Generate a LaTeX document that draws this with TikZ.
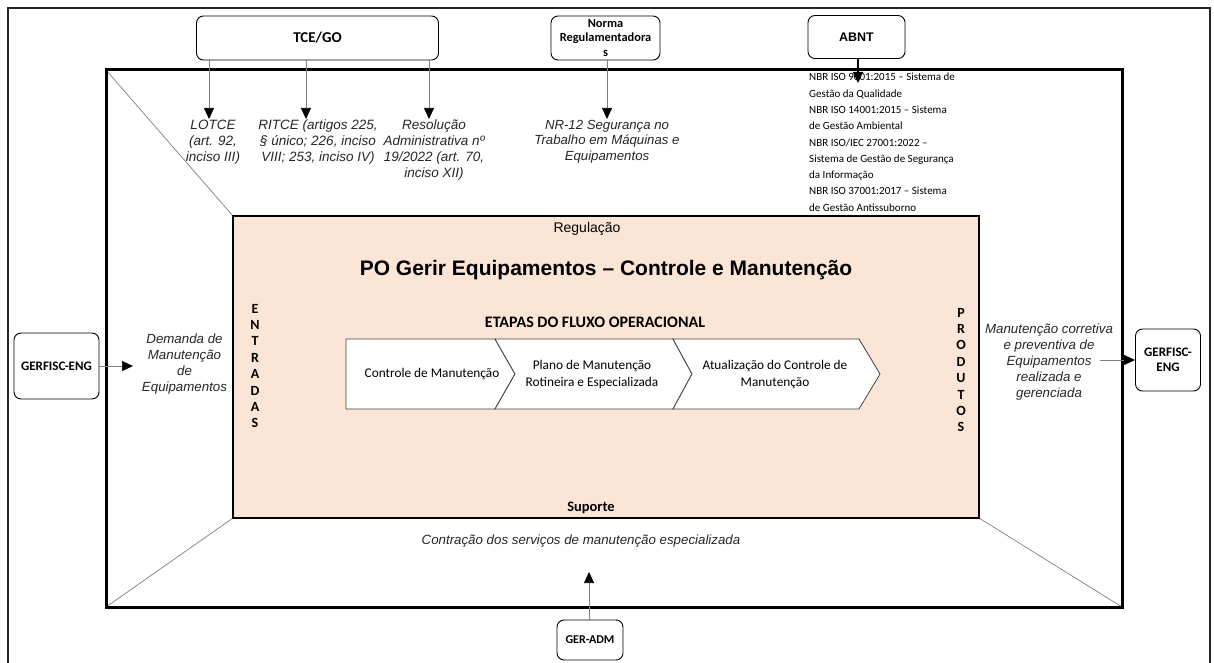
\documentclass[tikz,border=0pt]{standalone}
\usepackage{fontspec}
\setmainfont{Liberation Sans}
\newfontfamily\calibri[Ligatures=TeX]{Carlito}
\usetikzlibrary{arrows.meta}

\definecolor{salmao}{HTML}{FBE5D6}
\definecolor{cinza}{HTML}{7F7F7F}

\tikzset{
  caixa/.style={draw, rounded corners=7pt, line width=0.9pt, align=center,
    font=\calibri\bfseries\fontsize{13}{15}\selectfont},
  seta/.style={draw=cinza, line width=0.7pt,
    -{Triangle[width=10pt,length=11pt,color=black]}},
  ital/.style={align=center, inner sep=1pt, text=black!85,
    font=\itshape\fontsize{13.3}{16}\selectfont},
  etapa/.style={draw=black!75, fill=white, line width=0.8pt},
  etapatxt/.style={align=center, font=\calibri\fontsize{13.3}{17}\selectfont},
  vertical/.style={align=center, font=\calibri\bfseries\fontsize{14}{16.4}\selectfont}
}

\begin{document}
\begin{tikzpicture}[x=1pt,y=-1pt]
  \useasboundingbox (0,0) rectangle (1214,663);
  \draw[line width=1.5pt, black!85] (8,663) -- (8,8) -- (1210,8) -- (1210,663);

  \draw[cinza, line width=0.7pt] (106,70) -- (233,216);
  \draw[cinza, line width=0.7pt] (106,607) -- (233,518);
  \draw[cinza, line width=0.7pt] (1122,607) -- (979,518);
  \draw[line width=3pt] (106,70) rectangle (1122,607);
  \draw[fill=salmao, line width=1.8pt] (233,216) rectangle (979,518);

  % orgaos externos
  \node[caixa, minimum width=242pt, minimum height=44pt,
    font=\calibri\bfseries\fontsize{15}{17}\selectfont] (tce) at (317.5,38) {TCE/GO};
  \node[caixa, minimum width=109pt, minimum height=44pt, inner sep=0pt,
    font=\calibri\bfseries\fontsize{12.4}{14.8}\selectfont] (nr) at (605.5,38)
    {Norma\\Regulamentadora\\s};
  \node[caixa, minimum width=97pt, minimum height=43pt,
    font=\bfseries\fontsize{12.5}{15}\selectfont] (abnt) at (856.5,37) {ABNT};
  \node[caixa, minimum width=85pt, minimum height=66pt] (gerent) at (56.5,366) {GERFISC-ENG};
  \node[caixa, minimum width=65pt, minimum height=62pt] (gersai) at (1168,360) {GERFISC-\\ENG};
  \node[caixa, minimum width=66pt, minimum height=40pt,
    font=\calibri\bfseries\fontsize{12}{14}\selectfont] (geradm) at (590,640) {GER-ADM};

  % regulacao
  \node[ital, anchor=north, font=\itshape\fontsize{13.5}{16}\selectfont] (lotce) at (213,119)
    {LOTCE\\(art. 92,\\inciso III)};
  \node[ital, anchor=north, font=\itshape\fontsize{13.5}{16}\selectfont] (ritce) at (318,119)
    {RITCE (artigos 225,\\§ único; 226, inciso\\VIII; 253, inciso IV)};
  \node[ital, anchor=north, font=\itshape\fontsize{13.5}{16}\selectfont] (resol) at (434,119)
    {Resolução\\Administrativa nº\\19/2022 (art. 70,\\inciso XII)};
  \node[ital, anchor=north, font=\itshape\fontsize{13.2}{15.5}\selectfont] (nr12) at (607,119)
    {NR-12 Segurança no\\Trabalho em Máquinas e\\Equipamentos};
  \node[anchor=north west, align=left, inner sep=0pt,
    font=\calibri\fontsize{11}{16.3}\selectfont] (iso) at (809,73)
    {NBR ISO 9001:2015 – Sistema de\\Gestão da Qualidade\\NBR ISO 14001:2015 – Sistema\\de Gestão Ambiental\\NBR ISO/IEC 27001:2022 –\\Sistema de Gestão de Segurança\\da Informação\\NBR ISO 37001:2017 – Sistema\\de Gestão Antissuborno};
  \coordinate (plotce) at (209,119);
  \coordinate (pritce) at (306,119);
  \coordinate (presol) at (429,119);
  \coordinate (isoponta) at (858,83);

  \draw[seta] (tce.south -| plotce) -- (plotce);
  \draw[seta] (tce.south -| pritce) -- (pritce);
  \draw[seta] (tce.south -| presol) -- (presol);
  \draw[seta] (nr.south -| nr12.north) -- (nr12.north);
  \draw[line width=1.6pt, -{Triangle[width=10pt,length=11pt]}] (abnt.south -| isoponta) -- (isoponta);

  % processo
  \node[font=\fontsize{14}{16}\selectfont] (regul) at (587,229) {Regulação};
  \node[font=\bfseries\fontsize{21}{25}\selectfont] (titulo) at (606,270)
    {PO Gerir Equipamentos – Controle e Manutenção};
  \node[font=\calibri\bfseries\fontsize{16}{18}\selectfont] (etapas) at (595,322)
    {ETAPAS DO FLUXO OPERACIONAL};
  \node[font=\calibri\bfseries\fontsize{14.5}{16}\selectfont] (suporte) at (591,508) {Suporte};
  \node[vertical] (entradas) at (255,366) {E\\N\\T\\R\\A\\D\\A\\S};
  \node[vertical] (produtos) at (961,370) {P\\R\\O\\D\\U\\T\\O\\S};

  \draw[etapa] (346,339) -- (495,339) -- (515,374) -- (495,409) -- (346,409) -- cycle;
  \draw[etapa] (495,339) -- (673,339) -- (692,374) -- (673,409) -- (495,409) -- (515,374) -- cycle;
  \draw[etapa] (673,339) -- (859,339) -- (880,374) -- (859,409) -- (673,409) -- (692,374) -- cycle;
  \node[etapatxt] (controle) at (432,374) {Controle de Manutenção};
  \node[etapatxt] (plano) at (592,374) {Plano de Manutenção\\Rotineira e Especializada};
  \node[etapatxt] (atualiza) at (775,374) {Atualização do Controle de\\Manutenção};

  % entradas, produtos e suporte
  \node[ital] (demanda) at (184.5,364) {Demanda de\\Manutenção\\de\\Equipamentos};
  \node[ital] (manut) at (1049,362) {Manutenção corretiva\\e preventiva de\\Equipamentos\\realizada e\\gerenciada};
  \node[ital] (contrata) at (581,541) {Contração dos serviços de manutenção especializada};
  \coordinate (demponta) at (133,366);
  \coordinate (manutsai) at (1100,360);
  \coordinate (suporteponta) at (589,572);

  \draw[seta] (gerent.east) -- (demponta);
  \draw[seta] (manutsai) -- (gersai.west);
  \draw[seta] (geradm.north -| suporteponta) -- (suporteponta);
\end{tikzpicture}
\end{document}
